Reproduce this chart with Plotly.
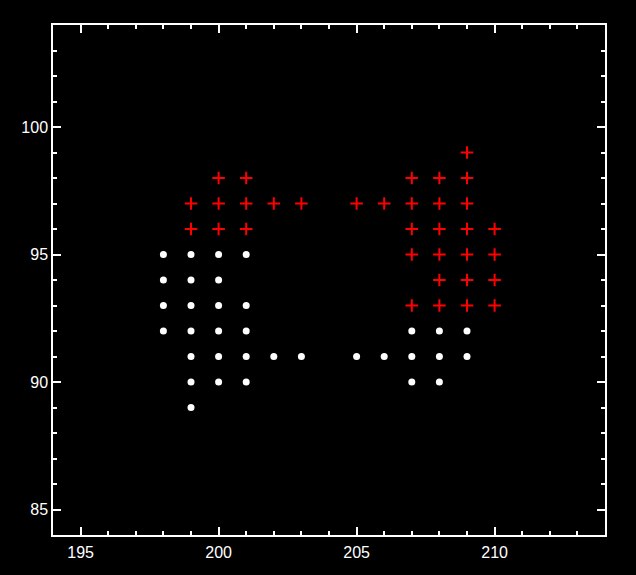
import plotly.graph_objects as go

# White dot markers
dot_x = [198, 199, 200, 201,
         198, 199, 200,
         198, 199, 200, 201,
         198, 199, 200, 201, 207, 208, 209,
         199, 200, 201, 202, 203, 205, 206, 207, 208, 209,
         199, 200, 201, 207, 208,
         199]
dot_y = [95, 95, 95, 95,
         94, 94, 94,
         93, 93, 93, 93,
         92, 92, 92, 92, 92, 92, 92,
         91, 91, 91, 91, 91, 91, 91, 91, 91, 91,
         90, 90, 90, 90, 90,
         89]

# Red plus markers
plus_x = [209,
          200, 201, 207, 208, 209,
          199, 200, 201, 202, 203, 205, 206, 207, 208, 209,
          199, 200, 201, 207, 208, 209, 210,
          207, 208, 209, 210,
          208, 209, 210,
          207, 208, 209, 210]
plus_y = [99,
          98, 98, 98, 98, 98,
          97, 97, 97, 97, 97, 97, 97, 97, 97, 97,
          96, 96, 96, 96, 96, 96, 96,
          95, 95, 95, 95,
          94, 94, 94,
          93, 93, 93, 93]

x_range = [194, 214]
y_range = [84, 104]
x_ticks = [195, 200, 205, 210]
y_ticks = [85, 90, 95, 100]

fig = go.Figure()
fig.add_trace(go.Scatter(x=dot_x, y=dot_y, mode="markers",
                         marker=dict(symbol="circle", size=7, color="white",
                                     line=dict(width=0))))
fig.add_trace(go.Scatter(x=plus_x, y=plus_y, mode="markers",
                         marker=dict(symbol="cross-thin", size=9,
                                     line=dict(width=2, color="red"), color="red")))

axis_common = dict(showgrid=False, zeroline=False, showline=True, linecolor="white",
                   linewidth=1.5, mirror="allticks", ticks="inside", ticklen=8,
                   tickwidth=1.5, tickcolor="white",
                   tickfont=dict(family="Liberation Sans", size=16, color="white"),
                   minor=dict(ticks="inside", ticklen=4, tickwidth=1.5,
                              tickcolor="white", dtick=1, showgrid=False))

fig.update_xaxes(range=x_range, tickvals=x_ticks, ticktext=[str(v) for v in x_ticks],
                 ticklabelstandoff=2, **axis_common)
fig.update_yaxes(range=y_range, tickvals=y_ticks, ticktext=[str(v) for v in y_ticks],
                 ticklabelstandoff=0, **axis_common)

fig.update_layout(width=636, height=575, showlegend=False,
                  paper_bgcolor="black", plot_bgcolor="black",
                  margin=dict(l=53, r=31, t=25, b=40))

fig.write_html("out.html",
               config={"displayModeBar": False},
               post_script="document.body.style.margin='0';"
                           "document.body.style.background='black';"
                           "document.body.style.overflow='hidden';")
